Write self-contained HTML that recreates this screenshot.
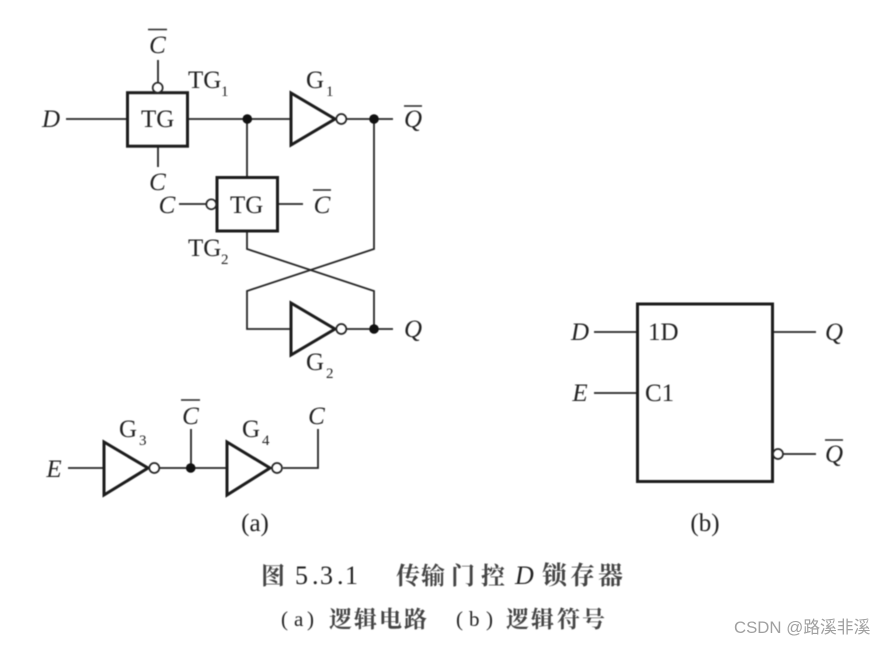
<!DOCTYPE html>
<html>
<head>
<meta charset="utf-8">
<style>
html,body{margin:0;padding:0;background:#fff}
svg{display:block}
text{font-family:"Liberation Serif","Noto Serif CJK SC",serif;fill:#222}
.i{font-style:italic;font-size:25px;text-anchor:middle}
.r{font-size:25px}
.s{font-size:15px}
.w{fill:none;stroke:#262626;stroke-width:1.8}
.b{fill:#fff;stroke:#1c1c1c;stroke-width:3}
.c{fill:#fff;stroke:#262626;stroke-width:1.7}
.d{fill:#111}
.o{stroke:#262626;stroke-width:1.6}
.z{font-weight:700;fill:#444}
</style>
</head>
<body>
<svg width="886" height="645" viewBox="0 0 886 645" xmlns="http://www.w3.org/2000/svg">
<rect width="886" height="645" fill="#fff"/>
<g style="filter:blur(.5px)">
<path class="w" d="M66 119H127M188 119H291M158 60V83M158 146V167M247 119V177M335 119H393M374 119V249L247 291V329H291M247 231V249L374 291V329M335 329H393"/>
<path class="w" d="M179 204H206M278 204H303"/>
<rect class="b" x="127.5" y="92.7" width="60" height="53.5"/>
<rect class="b" x="217" y="177.5" width="60.5" height="53.5"/>
<circle class="c" cx="157.7" cy="87.7" r="5"/>
<circle class="c" cx="211.3" cy="204.3" r="5"/>
<path class="b" d="M291 93V145L335 119Z"/>
<path class="b" d="M291 303V355L335 329Z"/>
<circle class="c" cx="341.3" cy="119" r="5"/>
<circle class="c" cx="341.3" cy="329" r="5"/>
<circle class="d" cx="247.3" cy="119" r="4.8"/>
<circle class="d" cx="374" cy="119" r="4.8"/>
<circle class="d" cx="374" cy="329" r="4.8"/>

<path class="w" d="M68 468H104M160 468H227M191 468V429M283 468H318V429"/>
<path class="b" d="M104 442V495L148 468Z"/>
<path class="b" d="M227 442V495L270 468Z"/>
<circle class="c" cx="154.3" cy="468" r="5"/>
<circle class="c" cx="277" cy="468" r="5"/>
<circle class="d" cx="190.7" cy="468" r="4.8"/>

<path class="w" d="M594 332H637M594 393H637M772 332H816M783 454H816"/>
<rect class="b" x="637.5" y="304" width="135" height="177.5"/>
<circle class="c" cx="778" cy="454" r="5"/>

<path class="o" d="M148 29.5H167M404 106H422M313 190H331M181 400H200M825 440H843"/>

<text class="i" x="157.5" y="53">C</text>
<text class="i" x="51" y="127">D</text>
<text class="r" x="141" y="127">TG</text>
<text class="r" x="188" y="88">TG</text><text class="s" x="221" y="96">1</text>
<text class="r" x="306" y="88">G</text><text class="s" x="326" y="96">1</text>
<text class="i" x="413" y="127">Q</text>
<text class="i" x="157.5" y="190">C</text>
<text class="i" x="167" y="213">C</text>
<text class="r" x="230" y="213">TG</text>
<text class="i" x="322" y="213">C</text>
<text class="r" x="188" y="256">TG</text><text class="s" x="221" y="264">2</text>
<text class="i" x="413" y="337">Q</text>
<text class="r" x="306" y="370">G</text><text class="s" x="326" y="378">2</text>
<text class="i" x="54" y="477">E</text>
<text class="r" x="119" y="437">G</text><text class="s" x="139" y="445">3</text>
<text class="i" x="190.5" y="424">C</text>
<text class="r" x="242" y="437">G</text><text class="s" x="262" y="445">4</text>
<text class="i" x="316.5" y="424">C</text>
<text class="r" x="255" y="531" text-anchor="middle">(a)</text>

<text class="i" x="580" y="340">D</text>
<text class="r" x="648" y="340">1D</text>
<text class="i" x="580" y="401">E</text>
<text class="r" x="645" y="401">C1</text>
<text class="i" x="834" y="340">Q</text>
<text class="i" x="834" y="462">Q</text>
<text class="r" x="705" y="531" text-anchor="middle">(b)</text>

<text class="z" x="261" y="584" style="font-size:24px">图</text>
<text x="295 312 320 337 345" y="584" style="font-size:26px">5.3.1</text>
<text class="z" x="396 421 451 481" y="584" style="font-size:24px">传输门控</text>
<text x="515" y="584" style="font-size:26px;font-style:italic">D</text>
<text class="z" x="542 570 598" y="584" style="font-size:25px">锁存器</text>
<text x="281 294 307" y="626" style="font-size:21px">(a)</text>
<text class="z" x="329 354 379 404" y="627" style="font-size:23px">逻辑电路</text>
<text x="456 469 486" y="626" style="font-size:21px">(b)</text>
<text class="z" x="506 531 557 582" y="627" style="font-size:23px">逻辑符号</text>
</g>
<text x="734" y="633" style="font-family:'Liberation Sans','Noto Sans CJK SC',sans-serif;font-size:16.8px;fill:#a0a0a0">CSDN @路溪非溪</text>
</svg>
</body>
</html>
